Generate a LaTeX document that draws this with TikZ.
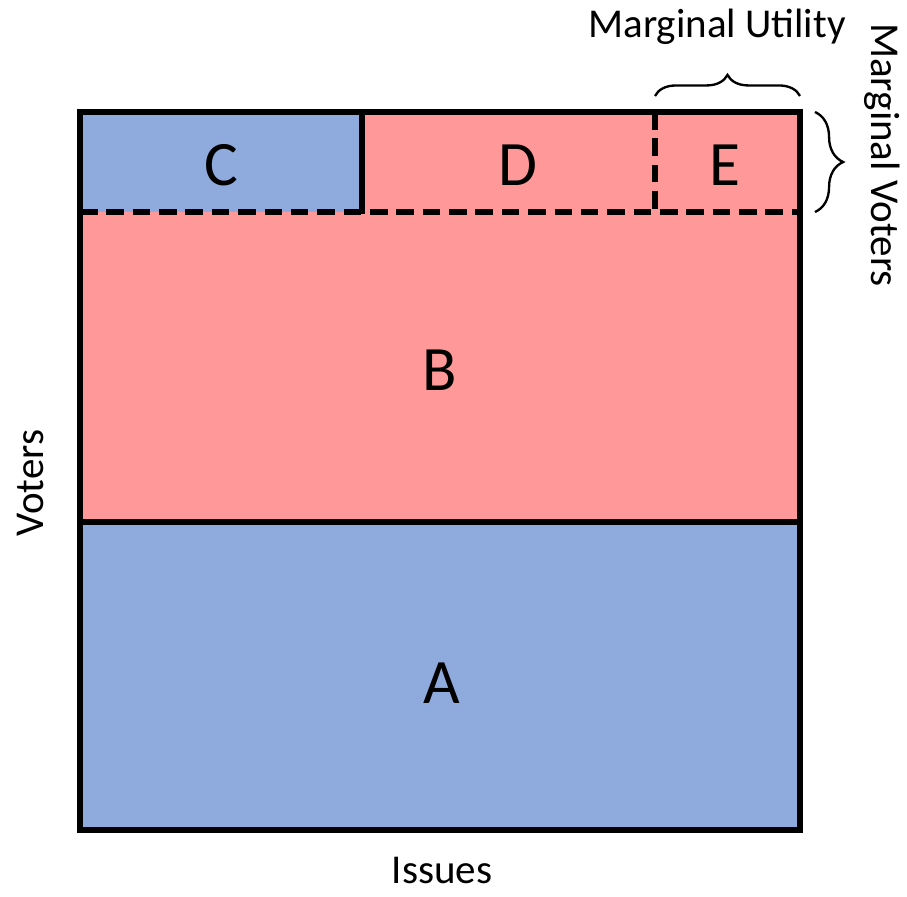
\documentclass[tikz,border=0pt]{standalone}
\usepackage{fontspec}
\setmainfont{Carlito}
\usetikzlibrary{decorations.pathreplacing}
\definecolor{votblue}{HTML}{8FAADC}
\definecolor{votred}{HTML}{FF9999}
\begin{document}
\begin{tikzpicture}[x=0.03cm, y=-0.03cm,
    letter/.style={font=\fontsize{54}{60}\selectfont},
    axislabel/.style={font=\fontsize{35}{40}\selectfont},
    frameline/.style={black, line width=5pt},
    cutline/.style={black, line width=5pt, dash pattern=on 15pt off 7.5pt},
    bracket/.style={decorate, decoration={brace, amplitude=#1}, line width=2pt}]
        \useasboundingbox (0,0) rectangle (907,896);

        \fill[votblue] (80,522) rectangle (800,830);
        \fill[votred] (80,212) rectangle (800,522);
        \fill[votblue] (80,112) rectangle (362,212);
        \fill[votred] (362,112) rectangle (800,212);

        \draw[cutline] (80,212) -- (800,212);
        \draw[cutline] (655,112) -- (655,212);
        \draw[frameline] (362,112) -- (362,214);
        \draw[frameline] (80,522) -- (800,522);
        \draw[frameline] (80,112) rectangle (800,830);

        \node[letter] (a) at (442,683) {A};
        \node[letter] (b) at (440,370) {B};
        \node[letter] (c) at (221,165) {C};
        \node[letter] (d) at (518,165) {D};
        \node[letter] (e) at (725,165) {E};

        \coordinate (mu1) at (655,96);
        \coordinate (mu2) at (800,96);
        \coordinate (mv1) at (815,112);
        \coordinate (mv2) at (815,212);
        \draw[bracket=18pt] (mu1) -- (mu2);
        \draw[bracket=24pt] (mv1) -- (mv2);

        \node[axislabel] (util) at (717,27) {Marginal Utility};
        \node[axislabel, rotate=-90] (marg) at (882,155) {Marginal Voters};
        \node[axislabel, rotate=90] (voters) at (30,483) {Voters};
        \node[axislabel] (issues) at (442,870) {Issues};
    \end{tikzpicture}
\end{document}
